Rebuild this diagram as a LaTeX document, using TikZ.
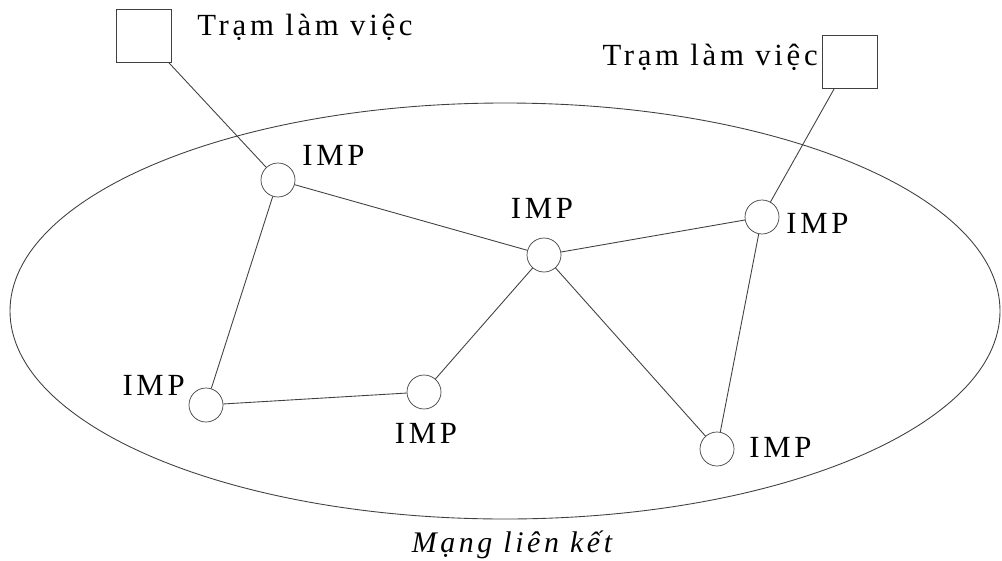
\documentclass[tikz,border=0pt]{standalone}
\usepackage{fontspec}
\setmainfont{Liberation Serif}[LetterSpace=12]

\begin{document}
\begin{tikzpicture}[font=\fontsize{17.5}{20}\selectfont,
  imp/.style={draw=black!75,circle,minimum size=.68cm,inner sep=0pt},
  station/.style={draw=black!75,minimum width=1.1cm,minimum height=1.06cm,inner sep=0pt},
  tag/.style={inner sep=0pt},
  link/.style={draw=black!75,line width=.5pt}]
  \useasboundingbox (0,0) rectangle (20.04,-11.2);
  % network boundary
  \draw[link] (10.1,-6.22) ellipse (9.9 and 4.16);
  % workstations
  \node[station] (ws1) at (2.88,-.72) {};
  \node[station] (ws2) at (16.99,-1.23) {};
  \node[tag,anchor=base west] (ws1lbl) at (3.94,-.7) {Trạm làm việc};
  \node[tag,anchor=base east] (ws2lbl) at (16.36,-1.3) {Trạm làm việc};
  % IMP nodes
  \node[imp] (a) at (5.56,-3.6) {};
  \node[imp] (b) at (10.88,-5.1) {};
  \node[imp] (c) at (15.24,-4.34) {};
  \node[imp] (d) at (4.12,-8.1) {};
  \node[imp] (e) at (8.48,-7.84) {};
  \node[imp] (f) at (14.34,-8.98) {};
  \node[tag,anchor=base west] (albl) at (6.04,-3.3) {IMP};
  \node[tag,anchor=base] (blbl) at (10.84,-4.36) {IMP};
  \node[tag,anchor=base west] (clbl) at (15.72,-4.66) {IMP};
  \node[tag,anchor=base east] (dlbl) at (3.7,-7.9) {IMP};
  \node[tag,anchor=base] (elbl) at (8.52,-8.86) {IMP};
  \node[tag,anchor=base west] (flbl) at (14.98,-9.14) {IMP};
  % links
  \draw[link] (ws1) -- (a) -- (b) -- (c) -- (ws2);
  \draw[link] (a) -- (d) -- (e) -- (b) -- (f) -- (c);
  \node[tag,anchor=base,font=\fontsize{17}{20}\selectfont\itshape] (cap) at (10.24,-11.04) {Mạng liên kết};
\end{tikzpicture}
\end{document}
